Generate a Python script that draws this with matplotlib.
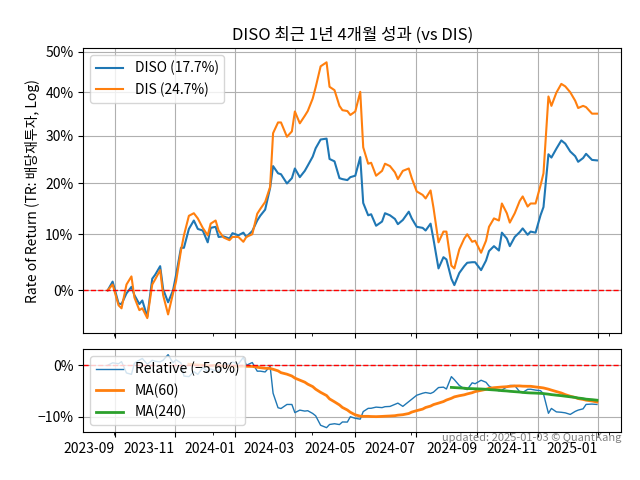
import numpy as np
import pandas as pd
import matplotlib
matplotlib.use('Agg')
import matplotlib.pyplot as plt
import matplotlib.dates as mdates
from matplotlib.ticker import FixedLocator, MultipleLocator, NullLocator

plt.rcParams['font.family'] = ['Noto Sans CJK KR', 'DejaVu Sans']

# NYSE holidays in the window, sampled every 3 trading days
holidays = ['2023-09-04', '2023-11-23', '2023-12-25', '2024-01-01', '2024-01-15',
            '2024-02-19', '2024-03-29', '2024-05-27', '2024-06-19', '2024-07-04',
            '2024-09-02', '2024-11-28', '2024-12-25', '2025-01-01']
step = 3

# cumulative total return, %
diso = [0.0, 1.5, -2.2, -2.3, -0.5, 0.6, -0.8, -2.3, -1.7, -4.4,
        2.0, 2.7, 4.2, 0.2, -2.0, 0.0, 2.6, 7.5, 7.5, 11.0,
        12.6, 11.0, 10.7, 8.5, 11.2, 11.4, 9.5, 9.6, 9.2, 10.2,
        9.8, 10.3, 9.5, 10.6, 12.6, 13.5, 14.7, 19.0, 23.5, 22.0,
        21.8, 19.9, 21.0, 23.0, 21.2, 22.5, 23.6, 25.5, 27.3, 29.2,
        29.4, 25.0, 24.5, 21.0, 20.8, 20.6, 21.2, 21.5, 25.4, 16.0,
        13.6, 13.8, 11.6, 12.4, 14.0, 13.6, 12.9, 11.9, 12.7, 14.3,
        13.0, 11.4, 11.2, 10.7, 12.0, 9.0, 3.8, 5.8, 5.4, 2.0,
        0.9, 3.0, 4.2, 4.8, 4.9, 4.9, 3.5, 5.2, 6.9, 7.8,
        7.0, 10.3, 9.2, 7.8, 9.5, 10.4, 11.1, 9.9, 10.5, 10.3,
        13.6, 15.2, 26.0, 25.3, 27.2, 29.0, 28.3, 26.6, 25.6, 24.4,
        25.2, 26.1, 24.8, 24.7]
dis = [0.0, 1.0, -2.5, -3.0, 1.0, 2.4, -1.2, -3.3, -3.0, -4.6,
       1.0, 1.9, 3.5, -0.8, -4.0, -0.5, 1.5, 7.0, 9.8, 13.5,
       14.0, 13.0, 11.2, 9.8, 12.0, 12.6, 10.7, 9.4, 8.9, 9.5,
       9.5, 8.6, 9.5, 10.0, 13.9, 14.8, 16.2, 19.2, 30.6, 33.0,
       33.0, 29.8, 31.0, 35.5, 32.8, 34.5, 35.6, 38.5, 41.2, 46.3,
       47.3, 41.3, 40.5, 36.8, 35.8, 35.6, 34.7, 35.5, 40.1, 27.5,
       24.0, 24.2, 21.5, 22.5, 24.0, 23.5, 22.2, 20.8, 22.5, 23.0,
       21.0, 18.3, 17.6, 16.9, 18.5, 15.0, 8.5, 10.5, 10.5, 4.3,
       3.8, 7.2, 9.2, 10.0, 8.6, 8.8, 6.6, 8.8, 11.4, 13.0,
       12.6, 15.9, 14.0, 12.2, 14.0, 16.4, 17.3, 15.3, 15.9, 15.9,
       19.5, 22.0, 39.0, 36.8, 39.9, 42.0, 41.4, 40.0, 38.0, 36.3,
       36.8, 36.5, 35.0, 35.0]

labels_top = ['DISO (17.7%)', 'DIS (24.7%)']
labels_bottom = ['Relative (\u22125.6%)', 'MA(60)', 'MA(240)']
ytick_top = [0, 10, 20, 30, 40, 50]
ytick_bottom = [0, -10]

trading = pd.bdate_range('2023-08-25', '2025-01-02', freq='C', holidays=holidays)
dates = trading[::step][:len(diso)]

diso = np.array(diso)
dis = np.array(dis)
rel = ((1 + diso / 100) / (1 + dis / 100) - 1) * 100
ma60 = pd.Series(rel).rolling(60 // step).mean()
ma240 = pd.Series(rel).rolling(240 // step).mean()

fig = plt.figure(figsize=(6.4, 4.8), dpi=100)
ax1 = fig.add_axes([0.130, 0.306, 0.841, 0.593])
ax2 = fig.add_axes([0.130, 0.100, 0.841, 0.172], sharex=ax1)

ax1.plot(dates, 1 + diso / 100, label=labels_top[0])
ax1.plot(dates, 1 + dis / 100, label=labels_top[1])
ax1.axhline(1, color='red', ls='--', lw=1)
ax1.set_yscale('log')
ax1.yaxis.set_major_locator(FixedLocator([1 + t / 100 for t in ytick_top]))
ax1.set_yticklabels([f'{t}%' for t in ytick_top])
ax1.yaxis.set_minor_locator(NullLocator())
ax1.set_ylim(0.93, 1.508)
ax1.set_ylabel('Rate of Return (TR: 배당재투자, Log)')
ax1.set_title('DISO 최근 1년 4개월 성과 (vs DIS)')
ax1.grid(True)
ax1.legend(loc='upper left')
ax1.tick_params(labelbottom=False)

ax2.plot(dates, rel, lw=1, label=labels_bottom[0])
ax2.plot(dates, ma60, lw=2, label=labels_bottom[1])
ax2.plot(dates, ma240, lw=2, label=labels_bottom[2])
ax2.axhline(0, color='red', ls='--', lw=1)
ax2.set_yticks(ytick_bottom)
ax2.set_yticklabels([f'{t}%'.replace('-', '\u2212') for t in ytick_bottom])
ax2.set_ylim(-13.0, 3.1)
ax2.grid(True)
ax2.legend(loc='upper left')

ax2.xaxis.set_major_locator(mdates.MonthLocator(bymonth=[1, 3, 5, 7, 9, 11]))
ax2.xaxis.set_major_formatter(mdates.DateFormatter('%Y-%m'))
ax2.xaxis.set_minor_locator(MultipleLocator(100))
plt.setp(ax2.get_xticklabels(), ha='right')

ax2.text(1.0, -0.01, 'updated: 2025-01-03 \u00a9 QuantKang', transform=ax2.transAxes,
         ha='right', va='top', fontsize=8, color='gray')

fig.savefig('out.png', dpi=100)
